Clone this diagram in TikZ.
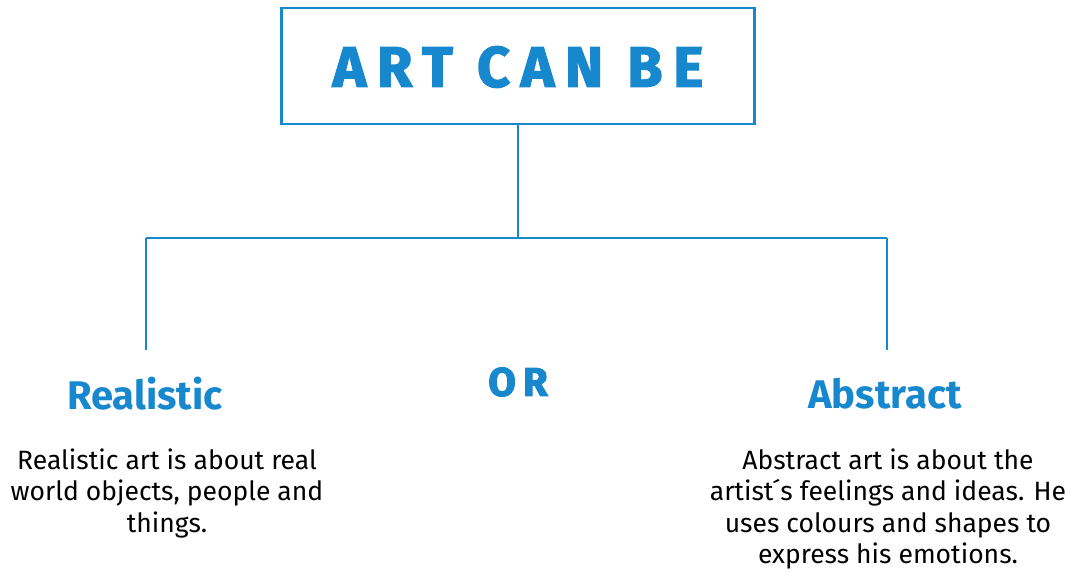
\documentclass[tikz,border=0pt]{standalone}
\usepackage{fontspec}
\setmainfont{Fira Sans}
\newfontfamily\titlefont[LetterSpace=19,FakeBold=2.5]{Fira Sans Bold}
\newfontfamily\orfont[LetterSpace=18,FakeBold=2.5]{Fira Sans Bold}
\usetikzlibrary{positioning}
\definecolor{artblue}{HTML}{1888CE}
\tikzset{%
  titlebox/.style = {shape=rectangle, draw=artblue, line width=2.6pt,%
                     minimum width=473pt, minimum height=116pt},%
  heading/.style  = {font=\fontsize{40}{42}\selectfont\bfseries, text=artblue},%
  bodytext/.style = {align=center, font=\fontsize{26.5}{31.5}\selectfont},%
  branch/.style   = {draw=artblue, line width=2.2pt}%
}
\begin{document}
\begin{tikzpicture}[x=1pt,y=-1pt]%
	\useasboundingbox (0,0) rectangle (1074,573);
	\node [titlebox] (box) at (518,66) {};%
	\node [text=artblue, font=\fontsize{57}{59}\selectfont\titlefont] (title) at (518,67) {ART CAN BE};%
	\coordinate (fork) at (518,238);%
	\coordinate (forkl) at (146,238);%
	\coordinate (forkr) at (887,238);%
	\coordinate (endl) at (146,350);%
	\coordinate (endr) at (887,350);%
	\draw [branch] (box.south) -- (fork);%
	\draw [branch] (forkl) -- (forkr);%
	\draw [branch] (forkl) -- (endl);%
	\draw [branch] (forkr) -- (endr);%
	\node [heading] (real) at (145,394) {Realistic};%
	\node [text=artblue, font=\fontsize{40}{42}\selectfont\orfont] (or) at (518,382) {OR};%
	\node [heading] (abst) at (885,394) {Abstract};%
	\node [bodytext] (realtext) at (167,493) {Realistic art is about real\\world objects, people and\\things.};%
	\node [bodytext] (abstext) at (888,509) {Abstract art is about the\\artist\'{}s feelings and ideas. He\\uses colours and shapes to\\express his emotions.};%
\end{tikzpicture}
\end{document}
